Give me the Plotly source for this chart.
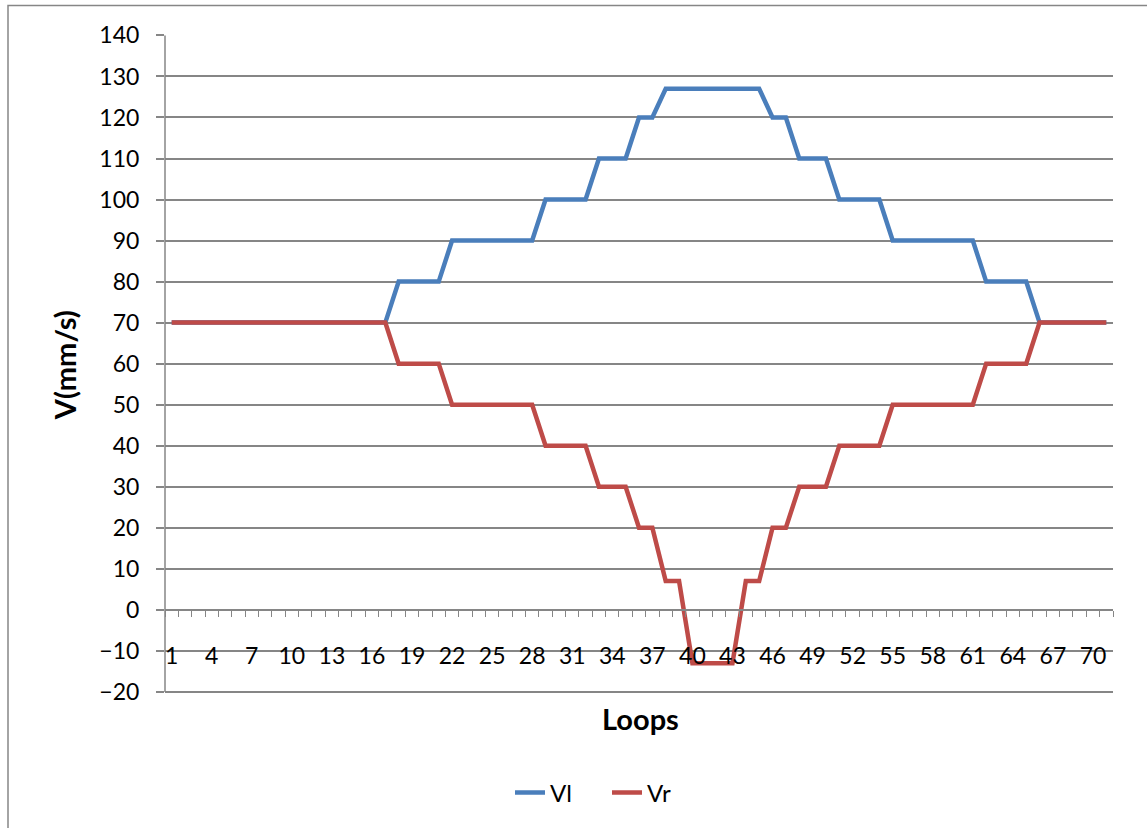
import plotly.graph_objects as go

loops = list(range(1, 72))
vl = ([70] * 17 + [80] * 4 + [90] * 7 + [100] * 4 + [110] * 3 + [120] * 2 + [127] * 8
      + [120] * 2 + [110] * 3 + [100] * 4 + [90] * 7 + [80] * 4 + [70] * 6)
vr = ([70] * 17 + [60] * 4 + [50] * 7 + [40] * 4 + [30] * 3 + [20] * 2 + [7] * 2 + [-13] * 4 + [7] * 2
      + [20] * 2 + [30] * 3 + [40] * 4 + [50] * 7 + [60] * 4 + [70] * 6)
x_labels = list(range(1, 72, 3))
y_ticks = list(range(-20, 141, 10))
boundaries = [i + 0.5 for i in range(0, 72)]

FONT = "Lato"
GRID = "#868686"
W, H = 1147, 828
PXU = 657 / 160.0          # pixels per unit
YMIN, YMAX = -21.0, 140.1
T = 35 - (YMAX - 140) * PXU
Bpx = 692 + (-20 - YMIN) * PXU   # pixel y of plot bottom
L, R = 165, 34
B = H - Bpx
ph = Bpx - T
pw = W - L - R
pos0 = (0 - YMIN) / (YMAX - YMIN)


def py(pix):
    return (Bpx - pix) / ph


fig = go.Figure()
fig.add_trace(go.Scatter(x=loops, y=vl, name="Vl", mode="lines",
                         line=dict(color="#4A7EBB", width=4.5)))
fig.add_trace(go.Scatter(x=loops, y=vr, name="Vr", mode="lines",
                         line=dict(color="#BE4B48", width=4.5)))

fig.update_layout(
    width=W, height=H,
    margin=dict(l=L, r=R, t=T, b=B),
    paper_bgcolor="white", plot_bgcolor="white",
    font=dict(family=FONT, size=23, color="black"),
    showlegend=True,
    legend=dict(orientation="h", x=(510 - L) / pw, xanchor="left", y=py(793),
                yanchor="middle", font=dict(size=24), bgcolor="rgba(0,0,0,0)",
                entrywidth=52, entrywidthmode="pixels"),
    xaxis=dict(range=[0.5, 71.5], anchor="free", position=py(640),
               tickvals=x_labels, ticktext=[str(v) for v in x_labels],
               ticks="", showgrid=False, zeroline=False, showline=False,
               tickfont=dict(size=23)),
    xaxis2=dict(range=[0.5, 71.5], overlaying="x", anchor="free", position=pos0,
                tickvals=boundaries, ticks="outside", ticklen=6, tickcolor=GRID,
                tickwidth=1, showticklabels=False, showgrid=False, zeroline=False,
                showline=True, linecolor=GRID, linewidth=1.5),
    yaxis=dict(range=[YMIN, YMAX], tickvals=y_ticks, ticks="outside", ticklen=8,
               tickcolor=GRID, tickwidth=1.5, showgrid=True, gridcolor=GRID,
               gridwidth=1.5, zeroline=False, showline=False,
               tickfont=dict(size=23), ticklabelstandoff=12),
)

# dummy trace to activate xaxis2
fig.add_trace(go.Scatter(x=[None], y=[None], xaxis="x2", showlegend=False,
                         hoverinfo="skip"))

# y axis line spanning exactly -20..140 (Excel style)
fig.add_shape(type="line", xref="paper", yref="y", x0=0, x1=0, y0=y_ticks[0], y1=y_ticks[-1],
              line=dict(color=GRID, width=1.5))

fig.add_annotation(text="<b>Loops</b>", xref="paper", yref="paper",
                   x=(640 - L) / pw, y=py(719), showarrow=False,
                   font=dict(size=29, family=FONT), xanchor="center", yanchor="middle")
fig.add_annotation(text="<b>V(mm/s)</b>", xref="paper", yref="paper",
                   x=(64 - L) / pw, y=py(365), showarrow=False, textangle=-90,
                   font=dict(size=29, family=FONT), xanchor="center", yanchor="middle")

fig.add_shape(type="rect", xref="paper", yref="paper",
              x0=(8 - L) / pw, x1=(1160 - L) / pw, y0=py(845), y1=py(5),
              line=dict(color=GRID, width=1.5), fillcolor="rgba(0,0,0,0)", layer="below")

fig.write_html("out.html")
